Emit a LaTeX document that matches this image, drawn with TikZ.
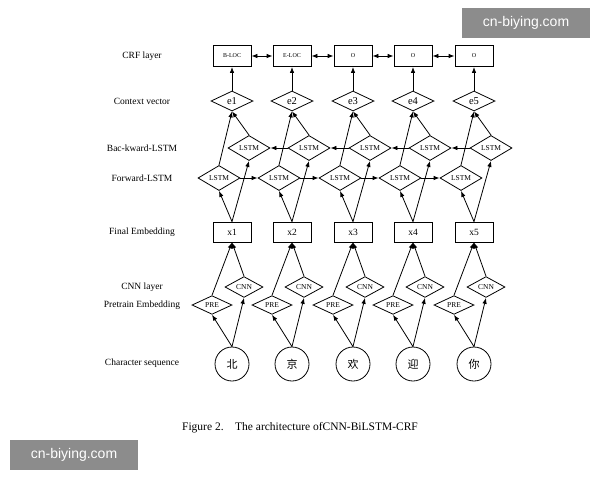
\documentclass[tikz,border=0pt]{standalone}
\usepackage{fontspec}
\setmainfont{Liberation Serif}
\newfontfamily\cjk{Noto Sans CJK SC}
\newfontfamily\wm{Liberation Sans}
\usetikzlibrary{shapes.geometric,arrows.meta}
\begin{document}
\begin{tikzpicture}[x=1pt,y=-1pt,
  box/.style={draw,thick,minimum width=38pt,minimum height=20pt,inner sep=0pt,font=\fontsize{9.5}{10}\selectfont},
  crf/.style={draw,thick,minimum width=38pt,minimum height=21pt,inner sep=0pt,font=\fontsize{6}{7}\selectfont},
  dia/.style={draw,thick,diamond,minimum width=42pt,minimum height=20pt,inner sep=0pt,font=\fontsize{7.5}{8}\selectfont},
  emb/.style={dia,font=\fontsize{10.5}{11}\selectfont},
  chr/.style={draw,thick,circle,minimum size=34pt,inner sep=0pt,font=\cjk\fontsize{11}{12}\selectfont},
  lab/.style={font=\fontsize{9.5}{11}\selectfont},
  arr/.style={-{Latex[length=6pt,width=4.5pt]},thick},
  darr/.style={{Latex[length=6pt,width=4.5pt]}-{Latex[length=6pt,width=4.5pt]},thick},
  wmk/.style={fill=black!45,text=white,font=\wm\fontsize{14}{16}\selectfont,minimum width=128pt,minimum height=30pt,inner sep=0pt}]
\useasboundingbox (0,0) rectangle (600,480);
\node[lab] (l1) at (142,56) {CRF layer};
\node[lab] (l2) at (142,101) {Context vector};
\node[lab] (l3) at (142,148) {Bac-kward-LSTM};
\node[lab] (l4) at (142,178) {Forward-LSTM};
\node[lab] (l5) at (142,232) {Final Embedding};
\node[lab] (l6) at (142,287) {CNN layer};
\node[lab] (l7) at (142,305) {Pretrain Embedding};
\node[lab] (l8) at (142,363) {Character sequence};
\foreach \i/\x/\t/\c in {1/232/B-LOC/北,2/292/E-LOC/京,3/353/O/欢,4/413/O/迎,5/474/O/你}{
  \node[crf] (c\i) at (\x,56) {\t};
  \node[emb] (e\i) at (\x,101) {e\i};
  \node[dia] (b\i) at (\x+17,148) {LSTM};
  \node[dia] (f\i) at (\x-13,178) {LSTM};
  \node[box] (x\i) at (\x,232) {x\i};
  \node[dia,minimum width=38pt,minimum height=18pt] (n\i) at (\x+12,287) {CNN};
  \node[dia,minimum width=40pt,minimum height=18pt] (p\i) at (\x-20,305) {PRE};
  \node[chr] (h\i) at (\x,364) {\c};
  \draw[arr] (e\i) -- (c\i);
  \draw[arr] (f\i.north) -- (e\i.south);
  \draw[arr] (b\i.north) -- (e\i.south);
  \draw[arr] (x\i.north) -- (f\i.south);
  \draw[arr] (x\i.north) -- (b\i.south);
  \draw[arr] (p\i.north) -- (x\i.south);
  \draw[arr] (n\i.north) -- (x\i.south);
  \draw[arr] (h\i.north) -- (p\i.south);
  \draw[arr] (h\i.north) -- (n\i.south);
}
\foreach \i/\j in {1/2,2/3,3/4,4/5}{
  \draw[darr] (c\i) -- (c\j);
  \draw[arr] (f\i) -- (f\j);
  \draw[arr] (b\j) -- (b\i);
}
\node[font=\fontsize{11.5}{13}\selectfont] (cap) at (300,428) {Figure 2.\quad The architecture ofCNN-BiLSTM-CRF};
\node[wmk] (w1) at (526,23) {cn-biying.com};
\node[wmk] (w2) at (74,455) {cn-biying.com};
\end{tikzpicture}
\end{document}
